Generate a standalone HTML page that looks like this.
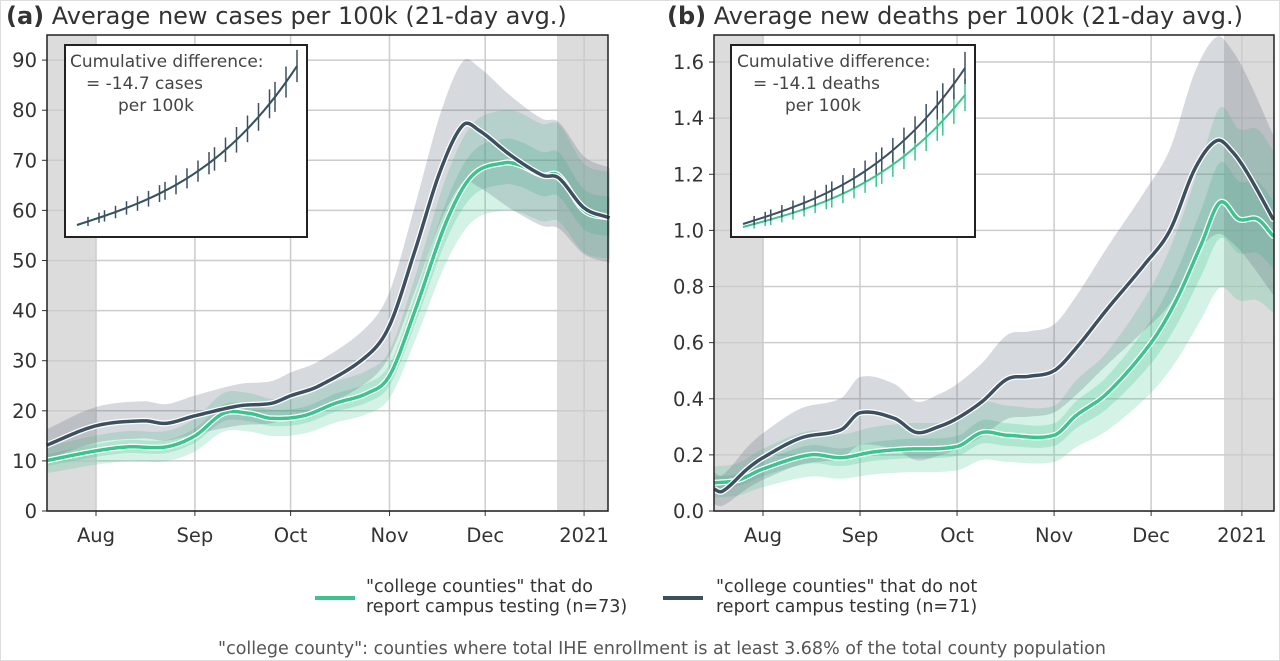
<!DOCTYPE html>
<html><head><meta charset="utf-8"><style>
body{margin:0;background:#fff;}
svg{display:block;font-family:"DejaVu Sans","Liberation Sans",sans-serif;}
</style></head><body>
<svg id="s" width="1280" height="661" viewBox="0 0 1280 661" xmlns="http://www.w3.org/2000/svg">
<rect x="0.5" y="0.5" width="1279" height="660" fill="#fff" stroke="#ddd"/>
<text x="6" y="24" font-size="24" fill="#333"><tspan font-weight="bold">(a)</tspan> Average new cases per 100k (21-day avg.)</text>
<text x="667" y="24" font-size="24" fill="#333"><tspan font-weight="bold">(b)</tspan> Average new deaths per 100k (21-day avg.)</text>
<g id="g"></g>
<line x1="315" y1="598" x2="355" y2="598" stroke="#3cc48f" stroke-width="4"/>
<text x="366" y="592" font-size="17.5" fill="#333">"college counties" that do</text>
<text x="366" y="612" font-size="17.5" fill="#333">report campus testing (n=73)</text>
<line x1="663" y1="598" x2="703" y2="598" stroke="#3d5060" stroke-width="4"/>
<text x="716" y="592" font-size="17.5" fill="#333">"college counties" that do not</text>
<text x="716" y="612" font-size="17.5" fill="#333">report campus testing (n=71)</text>
<text x="662" y="654" font-size="17.5" fill="#555" text-anchor="middle">"college county": counties where total IHE enrollment is at least 3.68% of the total county population</text>
</svg>
<script>
const NS="http://www.w3.org/2000/svg",G=document.getElementById('g');
function el(t,a,txt){const e=document.createElementNS(NS,t);for(const k in a)e.setAttribute(k,a[k]);if(txt!=null)e.textContent=txt;G.appendChild(e);return e;}
function interp(p,d){const n=p.length;if(d<=p[0][0])return p[0][1];if(d>=p[n-1][0])return p[n-1][1];
 let i=0;while(d>p[i+1][0])i++;
 const m=k=>{if(k<=0)return (p[1][1]-p[0][1])/(p[1][0]-p[0][0]);if(k>=n-1)return (p[n-1][1]-p[n-2][1])/(p[n-1][0]-p[n-2][0]);return (p[k+1][1]-p[k-1][1])/(p[k+1][0]-p[k-1][0]);};
 const h=p[i+1][0]-p[i][0],t=(d-p[i][0])/h,t2=t*t,t3=t2*t;
 return (2*t3-3*t2+1)*p[i][1]+(t3-2*t2+t)*h*m(i)+(-2*t3+3*t2)*p[i+1][1]+(t3-t2)*h*m(i+1);}
function panel(P){
 const X=d=>P.x0+d*P.pd, Y=v=>P.yb-v*P.py;
 el('rect',{x:P.L,y:35,width:P.s1-P.L,height:476,fill:'#dcdcdc'});
 el('rect',{x:P.s2,y:35,width:P.R-P.s2,height:476,fill:'#dcdcdc'});
 P.yt.forEach(v=>{el('line',{x1:P.L,x2:P.R,y1:Y(v),y2:Y(v),stroke:'#ccc','stroke-width':1.5});el('line',{x1:P.L-5,x2:P.L,y1:Y(v),y2:Y(v),stroke:'#333'});el('text',{x:P.L-10,y:Y(v)+7,'font-size':19.5,fill:'#333','text-anchor':'end'},P.fmt(v));});
 P.xt.forEach(([d,l])=>{el('line',{x1:X(d),x2:X(d),y1:35,y2:511,stroke:'#ccc','stroke-width':1.5});el('line',{x1:X(d),x2:X(d),y1:511,y2:516,stroke:'#333'});el('text',{x:X(d),y:542,'font-size':19.5,fill:'#333','text-anchor':'middle'},l);});
 const ds=[];for(let d=P.d0;d<=P.d1;d+=0.5)ds.push(d);
 function band(pts,f,c,o){let up=ds.map(d=>{const v=interp(pts,d);return X(d)+','+Y(v+f(v,d))});let lo=ds.slice().reverse().map(d=>{const v=interp(pts,d);return X(d)+','+Y(Math.max(0,v-f(v,d)*0.9))});el('polygon',{points:up.concat(lo).join(' '),fill:c,'fill-opacity':o});}
 band(P.G,P.go,'#3cc48f',0.22);band(P.G,P.gi,'#3cc48f',0.25);
 band(P.D,P.dw,'#5a6b7b',0.25);
 function line(pts,c){const p=ds.map(d=>X(d)+','+Y(interp(pts,d))).join(' ');el('polyline',{points:p,fill:'none',stroke:'#fff','stroke-width':6,'stroke-linejoin':'round'});el('polyline',{points:p,fill:'none',stroke:c,'stroke-width':3.5,'stroke-linejoin':'round'});}
 line(P.G,'#3cc48f');line(P.D,'#3d5060');
 el('rect',{x:P.L,y:35,width:P.R-P.L,height:476,fill:'none',stroke:'#222','stroke-width':1.5});
 const I=P.I;el('rect',{x:I.x,y:45,width:I.w,height:192,fill:'#fff',stroke:'#222','stroke-width':2});
 function ic(y0,y1,c,n){const pts=[];for(let i=0;i<=40;i++){const t=i/40;const x=I.x+12+t*(I.w-22);const y=y0-(y0-y1)*(0.55*t*t*t+0.45*t*0.9+0.045*t);pts.push([x,y]);}
  el('polyline',{points:pts.map(p=>p.join(',')).join(' '),fill:'none',stroke:c,'stroke-width':2});
  for(let k=1;k<=n;k++){const p=pts[Math.round(k*40/n)];const h=4+k*0.55;el('line',{x1:p[0],x2:p[0],y1:p[1]-h,y2:p[1]+h,stroke:c,'stroke-width':1.5});}}
 P.ins.forEach(a=>ic(...a));
 I.t.forEach((t,i)=>el('text',{x:I.tx[i],y:67+i*22,'font-size':17,fill:'#444'},t));
}
panel({L:47,R:608,s1:96,s2:557,x0:96,pd:3.19,yb:511,py:5.01,d0:-15.5,d1:161,
 yt:[0,10,20,30,40,50,60,70,80,90],fmt:v=>String(v),
 xt:[[0,'Aug'],[31,'Sep'],[61,'Oct'],[92,'Nov'],[122,'Dec'],[153,'2021']],
 D:[[-16,13],[0,17],[15,18],[22,17.5],[31,19],[45,21],[55,21.5],[61,23],[70,25],[85,31],[92,37],[100,52],[108,68],[115,77],[120,76],[130,71],[140,67],[145,66.5],[153,60.5],[161,58.5]],
 G:[[-16,10],[0,12],[10,12.8],[22,12.8],[31,15],[40,19.5],[48,19.5],[55,18.5],[65,19],[75,21.5],[85,23.5],[92,27],[100,40],[110,58],[118,67],[128,69.5],[133,69],[140,67],[145,67],[153,60],[161,58.5]],
 go:v=>1.5+0.13*v, gi:v=>0.6+0.06*v, dw:v=>1.2+0.15*v,
 I:{x:65,w:242,t:['Cumulative difference:','= -14.7 cases','per 100k'],tx:[70,86,118]},
 ins:[[225,66,'#3cc48f',0],[225,66,'#3d5060',22]]});
panel({L:714,R:1274,s1:763,s2:1224,x0:763,pd:3.13,yb:511,py:280.6,d0:-15.6,d1:163.5,
 yt:[0,0.2,0.4,0.6,0.8,1.0,1.2,1.4,1.6],fmt:v=>v.toFixed(1),
 xt:[[0,'Aug'],[31,'Sep'],[62,'Oct'],[93,'Nov'],[124,'Dec'],[153,'2021']],
 D:[[-16,0.08],[-13,0.07],[-5,0.15],[0,0.19],[12,0.26],[25,0.29],[31,0.35],[42,0.33],[49,0.28],[56,0.3],[62,0.33],[70,0.39],[78,0.47],[85,0.48],[93,0.5],[100,0.58],[110,0.72],[122,0.88],[130,1.0],[138,1.22],[145,1.32],[150,1.28],[155,1.2],[163,1.04]],
 G:[[-16,0.1],[-8,0.11],[0,0.15],[15,0.2],[25,0.19],[35,0.21],[45,0.22],[62,0.23],[70,0.28],[78,0.27],[93,0.27],[100,0.34],[110,0.42],[124,0.6],[132,0.75],[140,0.95],[146,1.1],[152,1.04],[158,1.04],[163,0.98]],
 go:v=>0.03+0.28*v, gi:v=>0.01+0.12*v, dw:v=>0.04+0.25*v,
 I:{x:731,w:244,t:['Cumulative difference:','= -14.1 deaths','per 100k'],tx:[737,753,785]},
 ins:[[227,95,'#3cc48f',22],[224,68,'#3d5060',22]]});
</script>
</body></html>
